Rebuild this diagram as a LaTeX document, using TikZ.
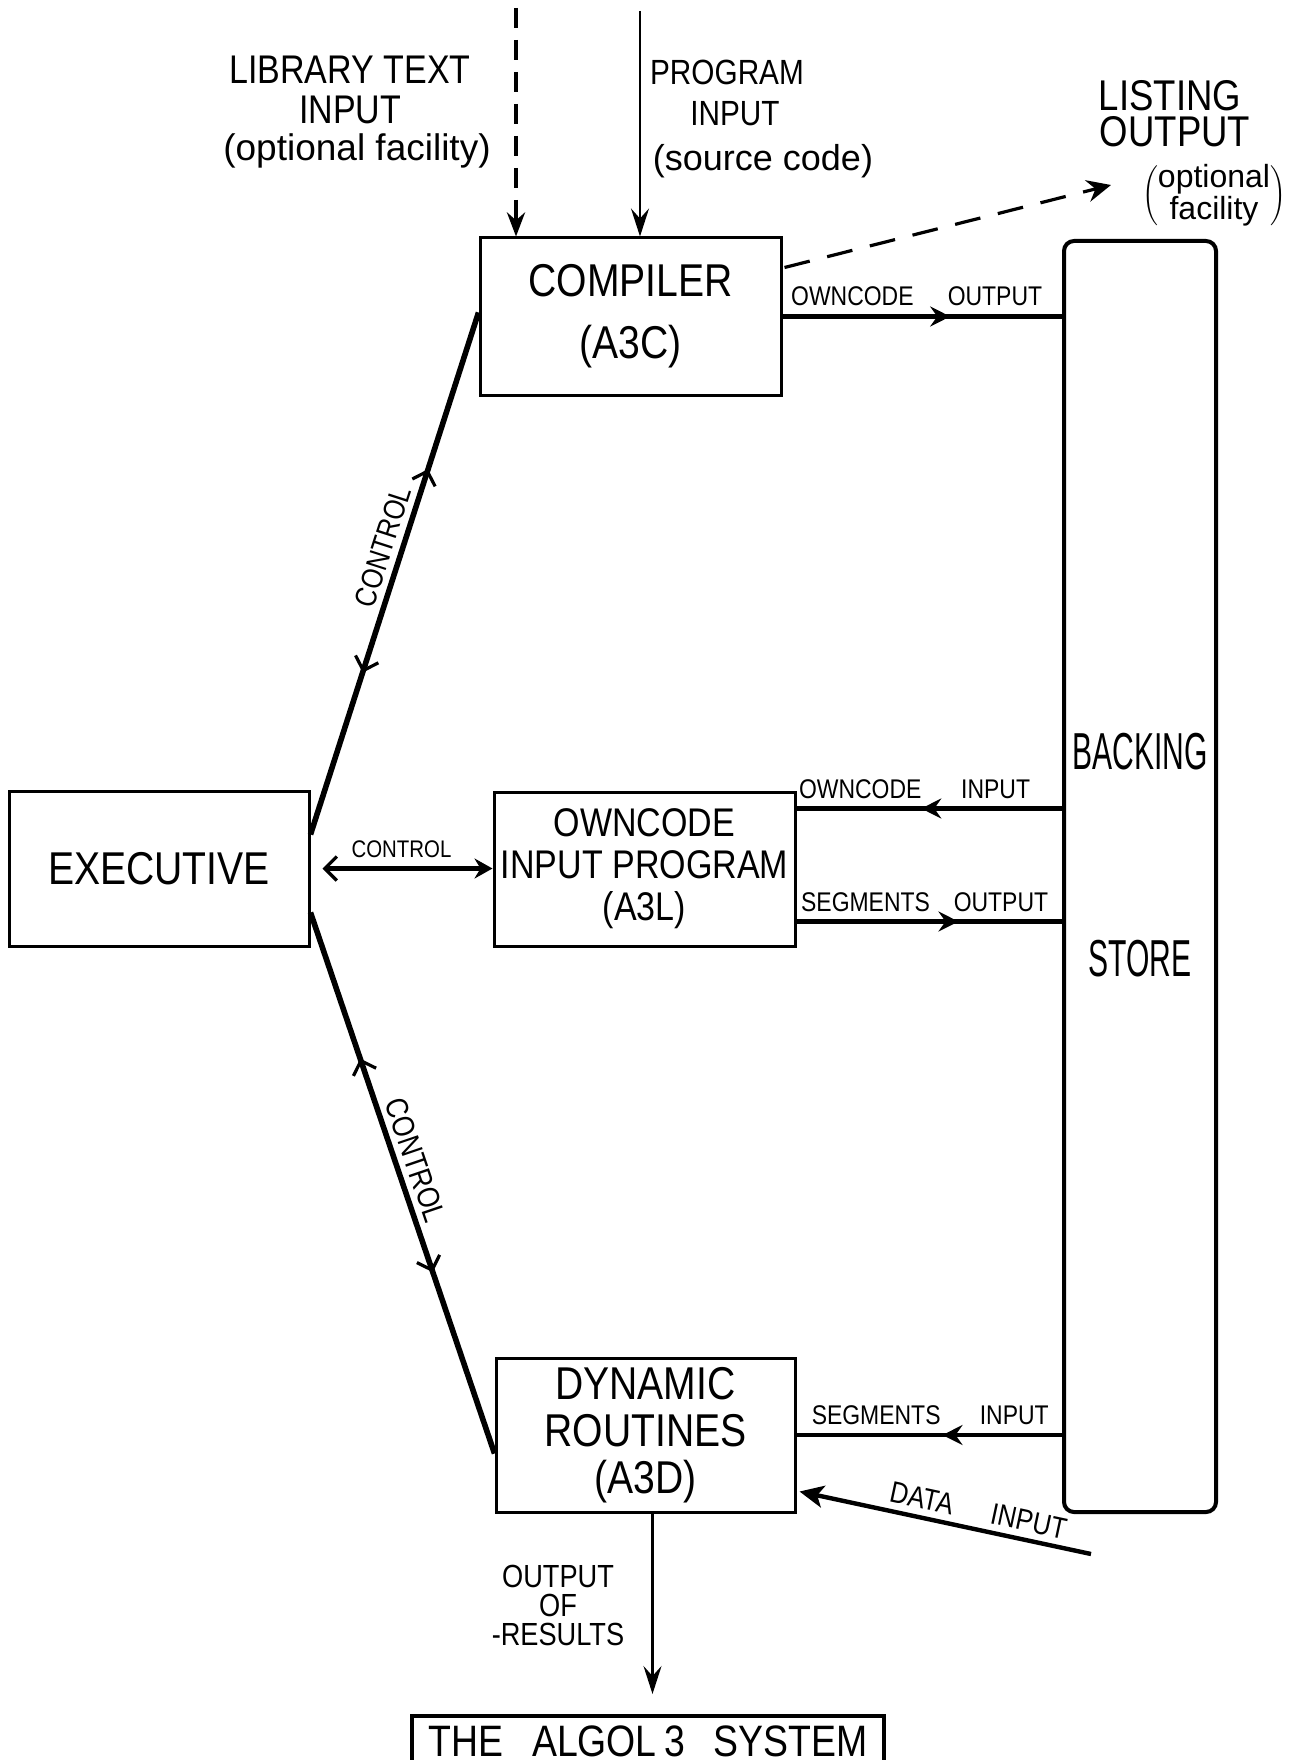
\documentclass[tikz,border=0pt]{standalone}
\usepackage{fontspec}
\setmainfont{Liberation Sans}[FakeStretch=0.85]
\newfontfamily\lcfont{Liberation Sans}
\usepackage{graphicx}
\usetikzlibrary{arrows.meta,calc,decorations.markings}

\tikzset{
  x=0.5pt, y=-0.5pt,
  box/.style={draw, line width=1.5pt, inner sep=0pt, align=center},
  flow/.style={line width=2.2pt},
  ctrl/.style={line width=2.8pt},
  lbl/.style={font=\fontsize{13.5}{14}\selectfont, inner sep=1pt, above=3pt},
  capsA/.style={font=\fontsize{20}{20}\selectfont, inner sep=0pt},
  midhead/.style={postaction={decorate, decoration={markings,
      mark=at position #1 with {\arrow{Stealth[length=10pt,width=10pt,inset=3.5pt]}}}}},
  ctrlheads/.style 2 args={postaction={decorate, decoration={markings,
      mark=at position #1 with {\arrowreversed{Straight Barb[length=6pt,width=12pt,line width=1.6pt]}},
      mark=at position #2 with {\arrow{Straight Barb[length=6pt,width=12pt,line width=1.6pt]}}}}}
}

\begin{document}
\begin{tikzpicture}
\useasboundingbox (0,0) rectangle (1297,1760);
\fill[white] (0,0) rectangle (1297,1760);
\clip (0,0) rectangle (1297,1760);

% main boxes
\node[box, minimum width=150.5pt, minimum height=78.5pt, font=\fontsize{23}{31}\selectfont] (comp) at (630.5,316.5) {COMPILER\\(A3C)};
\node[box, minimum width=150pt, minimum height=77.5pt, font=\fontsize{23}{24}\selectfont] (exec) at (159,868.5) {EXECUTIVE};
\node[box, minimum width=150.5pt, minimum height=77pt, font=\fontsize{20}{21}\selectfont] (own) at (644.5,869) {OWNCODE\\INPUT PROGRAM\\(A3L)};
\node[box, minimum width=149.5pt, minimum height=77pt, font=\fontsize{23}{23.5}\selectfont] (dyn) at (645.5,1435) {DYNAMIC\\ROUTINES\\(A3D)};
\node[draw, line width=2pt, rounded corners=5pt, minimum width=76pt, minimum height=635.5pt, inner sep=0pt] (back) at (1140,876.5) {};
\node[font=\fontsize{26}{26}\selectfont, inner sep=0pt] (backA) at (1140,752) {\scalebox{0.68}[1]{BACKING}};
\node[font=\fontsize{26}{26}\selectfont, inner sep=0pt] (backB) at (1140,959) {\scalebox{0.68}[1]{STORE}};

% title
\node[draw, line width=1.8pt, anchor=north, minimum width=236pt, inner xsep=0pt, inner ysep=5pt,
      text depth=0pt, font=\fontsize{22}{22}\selectfont] (title) at (648,1714)
      {THE\hspace{0.65em}ALGOL\,3\hspace{0.65em}SYSTEM};

% input labels at the top
\node[capsA] (libA) at (350,70) {LIBRARY TEXT};
\node[capsA] (libB) at (350,110) {INPUT};
\node[font=\lcfont\fontsize{18.5}{18.5}\selectfont, inner sep=0pt] (libC) at (357,151) {(optional facility)};
\node[font=\fontsize{17.5}{18}\selectfont, inner sep=0pt] (progA) at (727,72) {PROGRAM};
\node[font=\fontsize{17.5}{18}\selectfont, inner sep=0pt] (progB) at (735,114) {INPUT};
\node[font=\lcfont\fontsize{18}{18}\selectfont, inner sep=0pt] (progC) at (763,161) {(source code)};
\node[font=\fontsize{21.5}{22}\selectfont, inner sep=0pt] (lstA) at (1170,96) {LISTING};
\node[font=\fontsize{21.5}{22}\selectfont, inner sep=0pt] (lstB) at (1175,132) {OUTPUT};
\node[font=\lcfont\fontsize{16}{14}\selectfont, inner sep=0pt] (lstC) at (1214,196)
      {\delimiterfactor=820 $\left(\begin{tabular}{@{}c@{}}optional\\facility\end{tabular}\right)$};

% inputs into the compiler
\coordinate (libtop) at (516,8);
\draw[line width=2pt, dash pattern=on 10pt off 6pt, -{Stealth[length=12pt,width=9pt]}]
  (libtop) -- (libtop |- comp.north);
\coordinate (progtop) at (640,11);
\draw[line width=1.1pt, -{Stealth[length=14pt,width=9pt,inset=5pt]}]
  (progtop) -- (progtop |- comp.north);

% listing output
\coordinate (lstend) at (1111,185);
\draw[line width=1.6pt, dash pattern=on 13pt off 9pt, -{Stealth[length=12pt,width=11pt,inset=4pt]}]
  ($(comp.north east)+(2,31)$) -- (lstend);

% backing store traffic
\draw[flow, line width=2.5pt, midhead=0.6] (comp.east) -- (comp.east -| back.west)
  node[lbl, pos=0.25] {OWNCODE} node[lbl, pos=0.76] {OUTPUT};
\coordinate (oi) at ($(own.north east)+(0,18)$);
\draw[flow, midhead=0.53] (oi -| back.west) -- (oi)
  node[lbl, pos=0.25] {INPUT} node[lbl, pos=0.76] {OWNCODE};
\coordinate (so) at ($(own.south east)+(0,-26)$);
\draw[flow, midhead=0.61] (so) -- (so -| back.west)
  node[lbl, pos=0.26] {SEGMENTS} node[lbl, pos=0.77] {OUTPUT};
\draw[flow, midhead=0.45] (dyn.east -| back.west) -- (dyn.east)
  node[lbl, pos=0.18] {INPUT} node[lbl, pos=0.70] {SEGMENTS};

% data input
\coordinate (din) at (1091,1554);
\draw[line width=2.2pt, {Stealth[length=12pt,width=11pt,inset=3pt]}-]
  ($(dyn.south east)+(3,-22)$) -- (din)
  node[pos=0.6, sloped, above=2pt, inner sep=1pt, font=\fontsize{15}{15}\selectfont] {DATA\hspace{1.3em}INPUT};

% results
\coordinate (o1) at ($(dyn.south)+(7,0)$);
\draw[line width=1.1pt, -{Stealth[length=14pt,width=9pt,inset=5pt]}, shorten >=10pt]
  (o1) -- (o1 |- title.north);
\node[font=\fontsize{16}{14.5}\selectfont, align=center, inner sep=0pt] (outres) at (558,1605) {OUTPUT\\OF\\-RESULTS};

% control paths from the executive
\coordinate (ctA) at ($(exec.north east)+(0,45)$);
\coordinate (ctB) at ($(comp.north west)+(0,76)$);
\draw[ctrl, ctrlheads={0.31}{0.70}] (ctA) -- (ctB)
  node[pos=0.54, sloped, above=2pt, inner sep=1pt, font=\fontsize{15}{15}\selectfont] {CONTROL};
\draw[ctrl, {Straight Barb[length=6pt,width=12pt,line width=1.6pt]}-{Stealth[length=9pt,width=10pt,inset=3pt]}, shorten <=6pt]
  (exec.east) -- (exec.east -| own.west)
  node[midway, above=3pt, inner sep=1pt, font=\fontsize{12}{12}\selectfont] {CONTROL};
\coordinate (cbA) at ($(exec.south east)+(0,-35)$);
\coordinate (cbB) at ($(dyn.north west)+(0,97)$);
\draw[ctrl, ctrlheads={0.27}{0.665}] (cbA) -- (cbB)
  node[pos=0.47, sloped, above=2pt, inner sep=1pt, font=\fontsize{15.5}{15.5}\selectfont] {CONTROL};
\end{tikzpicture}
\end{document}
